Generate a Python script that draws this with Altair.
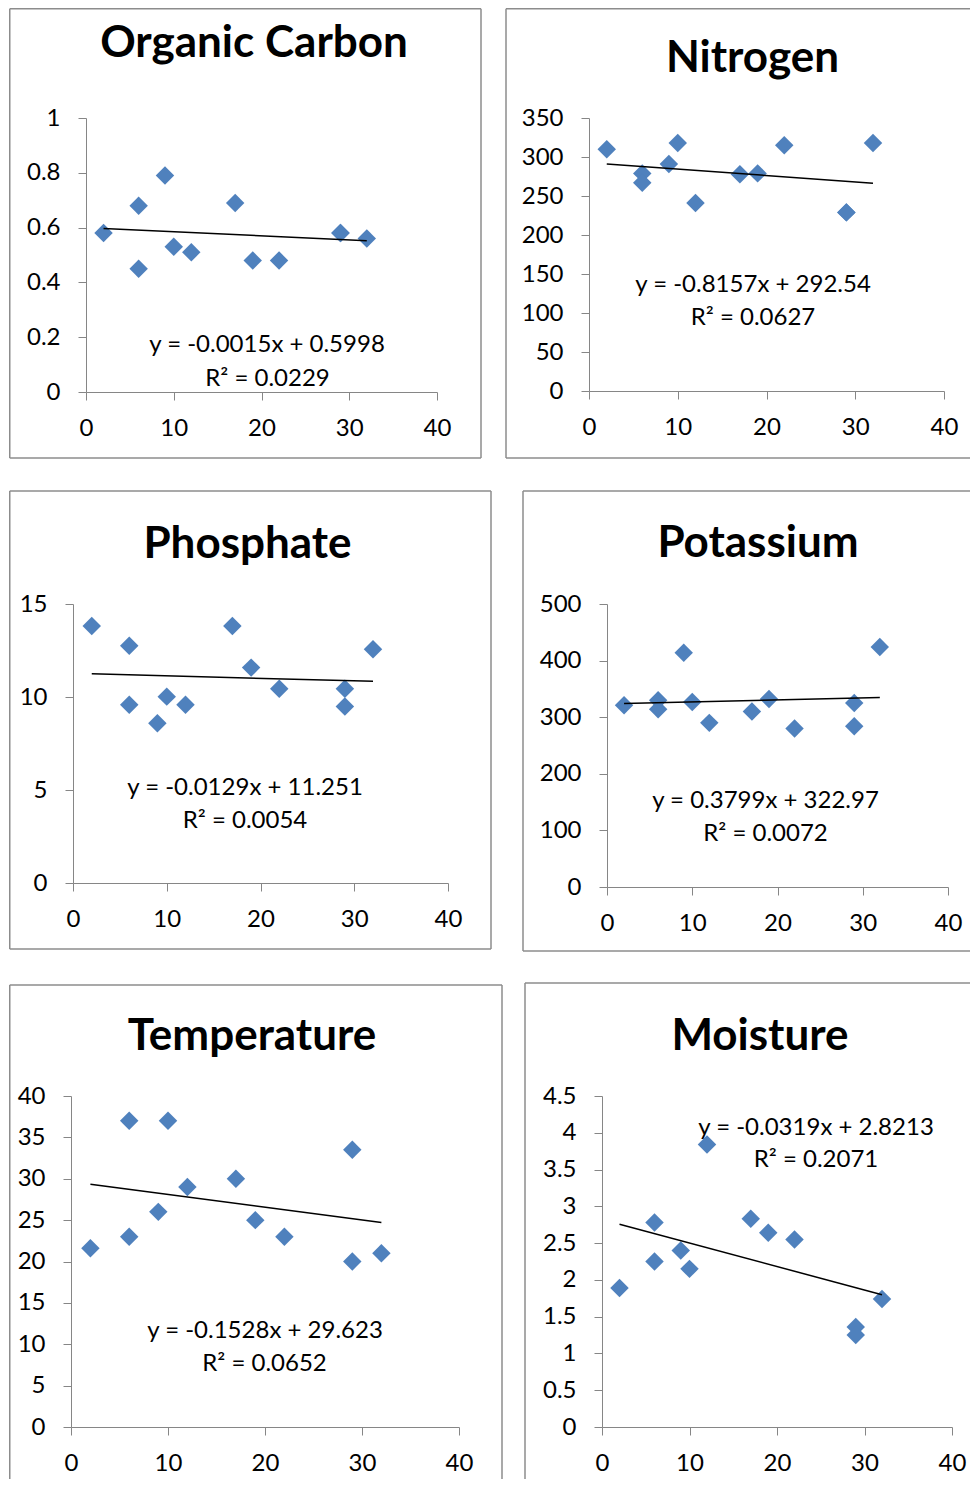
import altair as alt
import pandas as pd

# ---------------- data ----------------
x_vals = [2, 6, 6, 9, 10, 12, 17, 19, 22, 29, 29, 32]

organic_carbon = [0.58, 0.68, 0.45, 0.79, 0.53, 0.51, 0.69, 0.48, 0.48, 0.58, 0.58, 0.56]
nitrogen = [310, 279, 267, 291, 318, 241, 278, 279, 315, 229, 229, 318]
phosphate = [13.82, 12.76, 9.58, 8.59, 10.02, 9.58, 13.82, 11.58, 10.44, 10.44, 9.49, 12.57]
potassium = [321, 330, 314, 414, 327, 290, 310, 332, 280, 325, 284, 424]
temperature = [21.6, 37.0, 23.0, 26.0, 37.0, 29.0, 30.0, 25.0, 23.0, 33.5, 20.0, 21.0]
moisture = [1.89, 2.78, 2.25, 2.40, 2.15, 3.84, 2.83, 2.64, 2.55, 1.36, 1.25, 1.74]

series = [organic_carbon, nitrogen, phosphate, potassium, temperature, moisture]

titles = ["Organic Carbon", "Nitrogen", "Phosphate", "Potassium", "Temperature", "Moisture"]
equations = [
    "y = -0.0015x + 0.5998",
    "y = -0.8157x + 292.54",
    "y = -0.0129x + 11.251",
    "y = 0.3799x + 322.97",
    "y = -0.1528x + 29.623",
    "y = -0.0319x + 2.8213",
]
r_squared = [
    "R² = 0.0229",
    "R² = 0.0627",
    "R² = 0.0054",
    "R² = 0.0072",
    "R² = 0.0652",
    "R² = 0.2071",
]

x_ticks = [0, 10, 20, 30, 40]
y_ticks = [
    [0, 0.2, 0.4, 0.6, 0.8, 1],
    [0, 50, 100, 150, 200, 250, 300, 350],
    [0, 5, 10, 15],
    [0, 100, 200, 300, 400, 500],
    [0, 5, 10, 15, 20, 25, 30, 35, 40],
    [0, 0.5, 1, 1.5, 2, 2.5, 3, 3.5, 4, 4.5],
]

# ---------------- layout (page pixel coordinates) ----------------
R = 970    # right end of the open borders (page edge)
LB = 9.75  # left border of the left column
layout = [
    dict(plot=(86, 118, 351, 274), cell=(9, 8, 493, 474),
         border=[(LB, 8.75, 481, 8.75), (LB, 8.75, LB, 458), (481, 8.75, 481, 458), (LB, 458, 481, 458)],
         title=(254, 57), eq=((267, 352), (267.5, 386))),
    dict(plot=(589, 118, 355, 273), cell=(493, 8, 971, 474),
         border=[(506, 8.75, R, 8.75), (506, 8.75, 506, 458), (506, 458, R, 458)],
         title=(752.5, 72), eq=((753, 292), (753, 325))),
    dict(plot=(73, 604, 375, 279), cell=(9, 474, 507, 967),
         border=[(LB, 491, 491, 491), (LB, 491, LB, 949), (491, 491, 491, 949), (LB, 949, 491, 949)],
         title=(247.5, 558), eq=((245, 795), (245, 828))),
    dict(plot=(607, 604, 341, 283), cell=(507, 474, 971, 967),
         border=[(523, 491, R, 491), (523, 491, 523, 951), (523, 951, R, 951)],
         title=(758, 557), eq=((765.5, 808), (765.5, 841))),
    dict(plot=(71, 1096, 388, 331), cell=(9, 967, 513, 1480),
         border=[(LB, 985, 502, 985), (LB, 985, LB, 1479), (502, 985, 502, 1479)],
         title=(252, 1050), eq=((265, 1338), (264.5, 1371))),
    dict(plot=(602, 1096, 350, 331), cell=(513, 967, 971, 1480),
         border=[(525, 983, R, 983), (525, 983, 525, 1479)],
         title=(760, 1050), eq=((816, 1135), (816, 1167))),
]

FONT = "Lato"
BLUE = "#4F81BD"
AXIS_GRAY = "#868686"
BORDER_GRAY = "#8c8c8c"
LABEL_SIZE = 24
TITLE_SIZE = 44
one_row = pd.DataFrame({"k": [0]})


def panel(i):
    L = layout[i]
    px, py, w, h = L["plot"]
    df = pd.DataFrame({"x": x_vals, "y": series[i]})

    xenc = alt.X("x:Q",
                 scale=alt.Scale(domain=[0, 40], nice=False, zero=True),
                 axis=alt.Axis(values=x_ticks, title=None, grid=False, labelFlush=False,
                               domainColor=AXIS_GRAY, tickColor=AXIS_GRAY, tickSize=8,
                               labelFont=FONT, labelFontSize=LABEL_SIZE, labelColor="black",
                               labelPadding=16, labelOverlap=False))
    yenc = alt.Y("y:Q",
                 scale=alt.Scale(domain=[0, y_ticks[i][-1]], nice=False, zero=True),
                 axis=alt.Axis(values=y_ticks[i], format=".6~g", title=None, grid=False,
                               labelFlush=False, domainColor=AXIS_GRAY, tickColor=AXIS_GRAY,
                               tickSize=8, labelFont=FONT, labelFontSize=LABEL_SIZE,
                               labelColor="black", labelPadding=18, labelOverlap=False))

    cx1, cy1, cx2, cy2 = L["cell"]
    cell = alt.Chart(one_row).mark_rect(opacity=0).encode(
        x=alt.value(cx1 - px), x2=alt.value(cx2 - px),
        y=alt.value(cy1 - py), y2=alt.value(cy2 - py))

    layers = [cell]
    for (x1, y1, x2, y2) in L["border"]:
        layers.append(alt.Chart(one_row).mark_rule(color=BORDER_GRAY, strokeWidth=1.5).encode(
            x=alt.value(x1 - px), x2=alt.value(x2 - px),
            y=alt.value(y1 - py), y2=alt.value(y2 - py)))

    pts = alt.Chart(df).mark_point(shape="diamond", filled=True, size=340,
                                   color=BLUE, opacity=1).encode(x=xenc, y=yenc)
    trend = alt.Chart(df).transform_regression("x", "y").mark_line(
        color="black", strokeWidth=1.5).encode(x=xenc, y=yenc)
    layers += [pts, trend]

    tx, ty = L["title"]
    layers.append(alt.Chart(pd.DataFrame({"t": [titles[i]]})).mark_text(
        font=FONT, fontSize=TITLE_SIZE, fontWeight="bold", align="center",
        baseline="alphabetic", color="black").encode(
        x=alt.value(tx - px), y=alt.value(ty - py), text="t:N"))

    (e1x, e1y), (e2x, e2y) = L["eq"]
    layers.append(alt.Chart(pd.DataFrame({"t": [equations[i]]})).mark_text(
        font=FONT, fontSize=LABEL_SIZE, align="center", baseline="alphabetic", color="black").encode(
        x=alt.value(e1x - px), y=alt.value(e1y - py), text="t:N"))
    layers.append(alt.Chart(pd.DataFrame({"t": [r_squared[i]]})).mark_text(
        font=FONT, fontSize=LABEL_SIZE, align="center", baseline="alphabetic", color="black").encode(
        x=alt.value(e2x - px), y=alt.value(e2y - py), text="t:N"))

    return alt.layer(*layers).properties(width=w, height=h)


def spacer():
    # 1px wide invisible first column, so every row starts at the same left edge
    return alt.Chart(one_row).mark_rect(opacity=0).encode(
        x=alt.value(0), x2=alt.value(1), y=alt.value(0), y2=alt.value(1)
    ).properties(width=1, height=1)


rows = [alt.hconcat(spacer(), panel(0), panel(1), spacing=0),
        alt.hconcat(spacer(), panel(2), panel(3), spacing=0),
        alt.hconcat(spacer(), panel(4), panel(5), spacing=0)]

chart = alt.vconcat(*rows, spacing=0).properties(
    padding=0, background="white"
).configure_view(stroke="transparent", strokeWidth=0).configure_concat(spacing=0)

chart.save("out.html", embed_options={"renderer": "svg", "actions": False})
